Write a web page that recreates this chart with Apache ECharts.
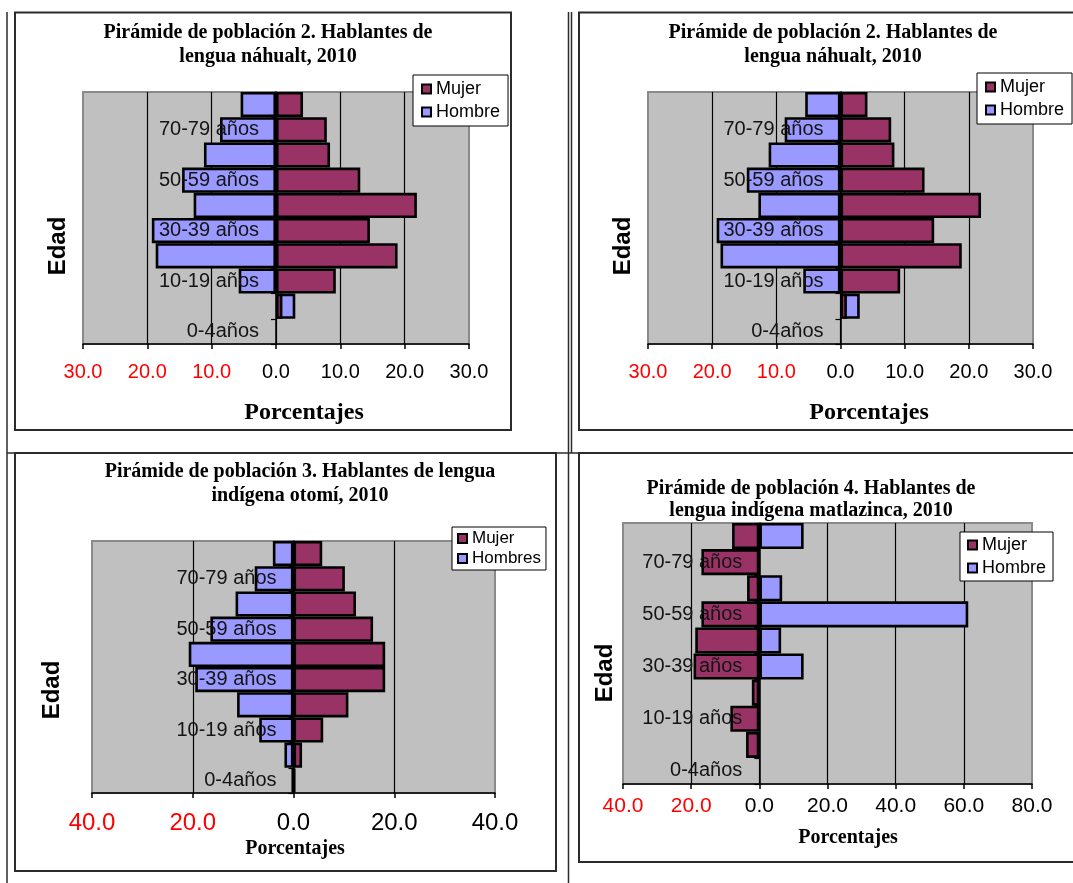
<!DOCTYPE html>
<html>
<head>
<meta charset="utf-8">
<script src="https://cdn.jsdelivr.net/npm/echarts@6/dist/echarts.min.js"></script>
<style>
html, body { margin: 0; padding: 0; background: #fff; }
#c { width: 1073px; height: 883px; }
</style>
</head>
<body>
<div id="c"></div>
<script>
// Age groups, bottom to top
const ageGroups = ['0-4años', '5-9 años', '10-19 años', '20-29 años', '30-39 años',
  '40-49 años', '50-59 años', '60-69 años', '70-79 años', '80 años y más'];

// Náhuatl speakers, 2010 (%). Men on the negative side.
const nahuatlMujer  = [null, 1.0, 9.3, 18.9, 14.6, 21.9, 13.1, 8.4, 7.9, 4.2];
const nahuatlHombre = [null, 3.0, -5.8, -18.7, -19.3, -12.8, -14.6, -11.2, -8.7, -5.5];

// Otomí speakers, 2010 (%)
const otomiMujer   = [0.3, 1.7, 5.9, 10.9, 18.2, 18.2, 15.8, 12.4, 10.2, 5.7];
const otomiHombres = [-0.3, -1.8, -6.8, -11.2, -19.5, -20.8, -16.5, -11.5, -7.7, -4.1];

// Matlazinca speakers, 2010 (%). Women on the negative side.
const matlaMujer  = [null, -3.9, -8.5, -2.2, -19.3, -18.8, -17.0, -3.6, -17.0, -8.0];
const matlaHombre = [null, null, null, null, 13.0, 6.4, 61.3, 6.7, null, 13.0];

const titles = [
  ['Pirámide de población 2. Hablantes de', 'lengua náhualt, 2010'],
  ['Pirámide de población 2. Hablantes de', 'lengua náhualt, 2010'],
  ['Pirámide de población 3. Hablantes de lengua', 'indígena otomí, 2010'],
  ['Pirámide de población 4. Hablantes de', 'lengua indígena matlazinca, 2010']
];
const axisTitle = 'Porcentajes';
const ageTitle = 'Edad';

const MUJER = '#993366';
const HOMBRE = '#9999ff';
const SANS = '"Liberation Sans", Arial, sans-serif';
const SERIF = '"Liberation Serif", "Times New Roman", serif';

// Layout of the four pyramids
const panels = [
  { grid: { left: 83, top: 92, width: 386, height: 252 }, min: -30, max: 30, step: 10, tickFont: 20, tickMargin: 18,
    title: titles[0], titleX: 268, titleY: [33, 57], xTitle: [304, 413, 24], yTitle: [58, 246],
    legend: { left: 413, top: 75, names: ['Mujer', 'Hombre'], font: 18, pad: [5, 8], gap: 5 },
    series: [['Hombre', nahuatlHombre, HOMBRE], ['Mujer', nahuatlMujer, MUJER]] },
  { grid: { left: 648, top: 92, width: 385, height: 252 }, min: -30, max: 30, step: 10, tickFont: 20, tickMargin: 18,
    title: titles[1], titleX: 833, titleY: [33, 57], xTitle: [869, 413, 24], yTitle: [623, 246],
    legend: { left: 977, top: 73, names: ['Mujer', 'Hombre'], font: 18, pad: [5, 8], gap: 5 },
    series: [['Hombre', nahuatlHombre, HOMBRE], ['Mujer', nahuatlMujer, MUJER]] },
  { grid: { left: 92, top: 541, width: 403, height: 252 }, min: -40, max: 40, step: 20, tickFont: 24, tickMargin: 18,
    title: titles[2], titleX: 300, titleY: [472, 496], xTitle: [295, 849, 20], yTitle: [52, 690],
    legend: { left: 452, top: 527, names: ['Mujer', 'Hombres'], font: 17, pad: [3, 5], gap: 3 },
    series: [['Hombres', otomiHombres, HOMBRE], ['Mujer', otomiMujer, MUJER]] },
  { grid: { left: 623, top: 523, width: 409, height: 261 }, min: -40, max: 80, step: 20, tickFont: 21, tickMargin: 12,
    title: titles[3], titleX: 811, titleY: [489, 511], xTitle: [848, 838, 20], yTitle: [605, 673],
    legend: { left: 960, top: 532, names: ['Mujer', 'Hombre'], font: 18, pad: [4, 7], gap: 5 },
    series: [['Mujer', matlaMujer, MUJER], ['Hombre', matlaHombre, HOMBRE]] }
];

const grid = [], xAxis = [], yAxis = [], series = [], legend = [], graphic = [];

// Page frame: table rules and chart borders
const rule = (x1, y1, x2, y2, w) => ({ type: 'line', shape: { x1, y1, x2, y2 },
  style: { stroke: '#2b2b2b', lineWidth: w || 1.5 } });
graphic.push(rule(7, 12, 7, 883), rule(7, 453, 1073, 453), rule(568.5, 12, 568.5, 883), rule(571.5, 12, 571.5, 453));
const frame = (x, y, w, h) => ({ type: 'rect', shape: { x, y, width: w, height: h },
  style: { fill: 'none', stroke: '#2b2b2b', lineWidth: 2 } });
graphic.push(frame(15, 12.5, 496, 417.5), frame(579, 12.5, 500, 417.5), frame(15, 453, 541, 418), frame(579, 453, 500, 409));

panels.forEach((p, i) => {
  grid.push(Object.assign({ show: true, backgroundColor: '#c0c0c0', borderColor: '#8a8a8a', borderWidth: 2,
    containLabel: false, outerBoundsMode: 'none' }, p.grid));

  xAxis.push({
    type: 'value', gridIndex: i, min: p.min, max: p.max, interval: p.step,
    axisLine: { show: true, onZero: false, lineStyle: { color: '#000', width: 1.5 } },
    axisTick: { show: true, length: 5, lineStyle: { color: '#000', width: 1.5 } },
    splitLine: { show: true, showMinLine: false, showMaxLine: false, lineStyle: { color: '#000', width: 1.2 } },
    axisLabel: {
      margin: p.tickMargin, fontFamily: SANS, fontSize: p.tickFont,
      formatter: v => (v < 0 ? '{n|' : '{p|') + Math.abs(v).toFixed(1) + '}',
      rich: {
        n: { color: '#ff0000', fontFamily: SANS, fontSize: p.tickFont },
        p: { color: '#000', fontFamily: SANS, fontSize: p.tickFont }
      }
    }
  });

  // The age axis crosses the value axis at 0: shift it inward from the grid's left edge
  const zeroShift = p.grid.width * (0 - p.min) / (p.max - p.min);
  yAxis.push({
    type: 'category', gridIndex: i, data: ageGroups, z: 5, position: 'left', offset: -zeroShift,
    axisLine: { show: true, onZero: false, lineStyle: { color: '#000', width: 1.5 } },
    axisTick: { show: true, length: 5, interval: 0, alignWithLabel: false, lineStyle: { color: '#000', width: 1.2 } },
    splitLine: { show: false },
    axisLabel: { interval: 1, margin: 17, fontFamily: SANS, fontSize: 20, color: '#141414', padding: [4, 0, 0, 0] }
  });

  p.series.forEach(([name, data, color]) => {
    series.push({
      name, type: 'bar', xAxisIndex: i, yAxisIndex: i, data,
      barGap: '-100%', barCategoryGap: '0%',
      itemStyle: { color, borderColor: '#000', borderWidth: 2.6 },
      emphasis: { disabled: true }, animation: false
    });
  });

  const lg = p.legend;
  legend.push({
    data: lg.names, left: lg.left, top: lg.top, orient: 'vertical', selectedMode: false,
    backgroundColor: '#fff', borderColor: '#000', borderWidth: 1, borderRadius: 0,
    padding: lg.pad, itemGap: lg.gap, itemWidth: 9, itemHeight: 9, icon: 'rect',
    itemStyle: { borderColor: '#000', borderWidth: 2 },
    textStyle: { fontFamily: SANS, fontSize: lg.font, color: '#000' }
  });

  const txt = (x, y, text, font, rot) => ({
    type: 'text', x, y, rotation: rot || 0, z: 10,
    style: { text, font, fill: '#000', align: 'center', verticalAlign: 'middle',
      textAlign: 'center', textVerticalAlign: 'middle' }
  });
  graphic.push(txt(p.titleX, p.titleY[0], p.title[0], 'bold 20px ' + SERIF));
  graphic.push(txt(p.titleX, p.titleY[1], p.title[1], 'bold 20px ' + SERIF));
  graphic.push(txt(p.xTitle[0], p.xTitle[1], axisTitle, 'bold ' + p.xTitle[2] + 'px ' + SERIF));
  graphic.push(txt(p.yTitle[0], p.yTitle[1], ageTitle, 'bold 24px ' + SANS, Math.PI / 2));
});

const chart = echarts.init(document.getElementById('c'), null, { renderer: 'canvas' });
chart.setOption({ animation: false, backgroundColor: '#fff', grid, xAxis, yAxis, series, legend, graphic });
</script>
</body>
</html>
